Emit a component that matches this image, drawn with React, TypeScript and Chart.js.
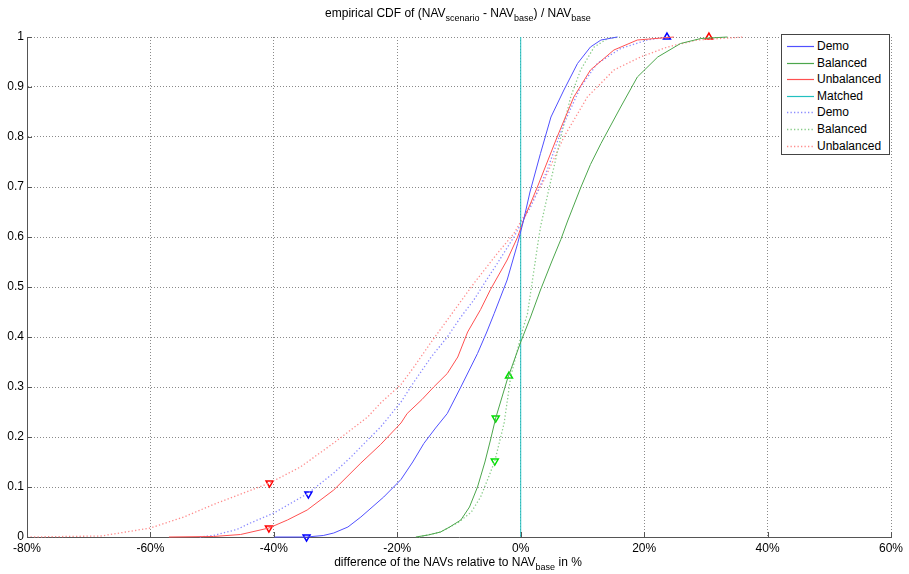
import React, { useEffect, useRef } from "react";
import { Chart, registerables } from "chart.js";
Chart.register(...registerables);

// ---- tick values ----
const xTickValues = [-80, -60, -40, -20, 0, 20, 40, 60];
const yTickValues = [0, 0.1, 0.2, 0.3, 0.4, 0.5, 0.6, 0.7, 0.8, 0.9, 1];

// ---- series (x in %, y = cumulative probability) ----
const demoX = [-40, -34.7, -32, -30.3, -28, -25.9, -22.2, -19.4, -17.5, -15.7, -13.8, -11.9, -9.7, -7.0, -5.5, -4.3, -2.2, -0.5, 0.4, 1.5, 3.2, 4.9, 7.0, 9.2, 11.3, 13.0, 15.7];
const demoY = [0, 0, 0.003, 0.008, 0.02, 0.04, 0.08, 0.115, 0.15, 0.187, 0.218, 0.247, 0.3, 0.367, 0.41, 0.447, 0.514, 0.587, 0.63, 0.69, 0.767, 0.84, 0.894, 0.947, 0.98, 0.994, 1.0];

const balancedX = [-17, -15, -13, -11.5, -9.7, -8.3, -7.0, -5.8, -4.9, -4.05, -2.2, 0, 1.6, 3.2, 5.0, 6.5, 7.6, 9.7, 11.3, 13.0, 16.2, 18.9, 22.2, 25.9, 29.2, 33.5];
const balancedY = [0, 0.004, 0.01, 0.02, 0.034, 0.06, 0.1, 0.15, 0.194, 0.238, 0.314, 0.39, 0.44, 0.494, 0.55, 0.595, 0.632, 0.698, 0.745, 0.787, 0.86, 0.92, 0.96, 0.987, 0.997, 1.0];

const unbalancedX = [-57, -49.8, -45.4, -40.8, -37.8, -34.6, -30.3, -25.9, -22.7, -19.4, -18.4, -16, -14.1, -11.9, -10.2, -8.6, -6.5, -4.9, -2.2, -0.5, 0.5, 2.7, 5.9, 8.6, 11.3, 15.1, 18.9, 24.8];
const unbalancedY = [0, 0.001, 0.005, 0.018, 0.034, 0.054, 0.094, 0.148, 0.185, 0.228, 0.247, 0.275, 0.3, 0.327, 0.36, 0.41, 0.455, 0.495, 0.554, 0.6, 0.635, 0.7, 0.8, 0.88, 0.934, 0.974, 0.994, 1.0];

const matchedX = [0, 0];
const matchedY = [0, 1];

const demoDotX = [-52, -49.8, -46, -43.8, -40, -34.5, -30.3, -27.5, -24.8, -22.7, -19.4, -17.3, -14.5, -11.9, -9.7, -7.6, -5.5, -3.8, -1.1, 0.5, 1.6, 2.7, 4.3, 7.0, 9.7, 12.4, 16.2, 20.5, 23.8];
const demoDotY = [0, 0.003, 0.015, 0.028, 0.048, 0.087, 0.128, 0.16, 0.194, 0.22, 0.27, 0.31, 0.36, 0.4, 0.44, 0.474, 0.515, 0.547, 0.6, 0.637, 0.66, 0.69, 0.734, 0.827, 0.9, 0.947, 0.977, 0.994, 1.0];

const balancedDotX = [-16.5, -13, -10, -8, -6.5, -5.2, -4.2, -2.7, -1.6, 0.3, 1.1, 2.7, 3.2, 4.9, 6.5, 8.1, 9.7, 11.9, 14.1, 16];
const balancedDotY = [0, 0.01, 0.03, 0.05, 0.08, 0.12, 0.152, 0.227, 0.322, 0.414, 0.447, 0.58, 0.62, 0.714, 0.8, 0.88, 0.934, 0.98, 0.997, 1.0];

const unbalancedDotX = [-80, -68, -64, -60, -54.6, -49.2, -44.9, -40.7, -35.7, -30.3, -24.8, -22.7, -19.4, -17.3, -14.5, -11.9, -7.6, -3.8, -1.1, 1.1, 3.8, 7.0, 10.8, 15.1, 19.4, 23.8, 28.6, 36.1];
const unbalancedDotY = [0, 0.002, 0.01, 0.018, 0.04, 0.068, 0.088, 0.108, 0.14, 0.188, 0.24, 0.268, 0.305, 0.34, 0.39, 0.434, 0.507, 0.567, 0.607, 0.654, 0.714, 0.8, 0.88, 0.934, 0.96, 0.98, 0.994, 1.0];

// ---- triangle markers ----
const demoMarkX = [-34.7, -34.4, 23.7];
const demoMarkY = [0, 0.086, 1];
const demoMarkDir = ["down", "down", "up"];
const balancedMarkX = [-4.05, -4.2, -1.9];
const balancedMarkY = [0.238, 0.152, 0.322];
const balancedMarkDir = ["down", "down", "up"];
const unbalancedMarkX = [-40.8, -40.7, 30.5];
const unbalancedMarkY = [0.018, 0.108, 1];
const unbalancedMarkDir = ["down", "down", "up"];

const legendNames = ["Demo", "Balanced", "Unbalanced", "Matched", "Demo", "Balanced", "Unbalanced"];

const FONT = "'Liberation Sans', Arial, sans-serif";
const C_BLUE = "#5050ff";
const C_GREEN = "#4ca64c";
const C_RED = "#ff5050";
const C_CYAN = "#22c0c0";
const C_BLUE_D = "#8a8aff";
const C_GREEN_D = "#88cc88";
const C_RED_D = "#ff8c8c";

const legendColors = [C_BLUE, C_GREEN, C_RED, C_CYAN, C_BLUE_D, C_GREEN_D, C_RED_D];
const legendDotted = [false, false, false, false, true, true, true];

const pts = (xs: number[], ys: number[]) => xs.map((x, i) => ({ x, y: ys[i] }));

function lineDs(label: string, xs: number[], ys: number[], color: string, dotted: boolean) {
  return {
    label,
    data: pts(xs, ys),
    showLine: true,
    borderColor: color,
    backgroundColor: color,
    borderWidth: dotted ? 1.3 : 1,
    borderDash: dotted ? [1.3, 2.2] : [],
    pointRadius: 0,
    tension: 0,
    clip: false as any,
  };
}

function markDs(label: string, xs: number[], ys: number[], dirs: string[], color: string) {
  return {
    label,
    data: pts(xs, ys),
    showLine: false,
    pointStyle: "triangle",
    pointRotation: dirs.map((d) => (d === "down" ? 180 : 0)),
    pointRadius: 4,
    pointBorderWidth: 1.5,
    pointBorderColor: color,
    pointBackgroundColor: "rgba(255,255,255,0)",
    borderColor: color,
    backgroundColor: "rgba(255,255,255,0)",
    clip: false as any,
  };
}

const innerTicks = {
  id: "innerTicks",
  afterDraw(chart: any) {
    const { ctx, chartArea, scales } = chart;
    ctx.save();
    ctx.strokeStyle = "#555";
    ctx.lineWidth = 1;
    ctx.beginPath();
    xTickValues.forEach((v) => {
      const px = Math.round(scales.x.getPixelForValue(v)) + 0.5;
      ctx.moveTo(px, chartArea.bottom);
      ctx.lineTo(px, chartArea.bottom - 5);
    });
    yTickValues.forEach((v) => {
      const py = Math.round(scales.y.getPixelForValue(v)) + 0.5;
      ctx.moveTo(chartArea.left, py);
      ctx.lineTo(chartArea.left + 5, py);
    });
    ctx.stroke();
    ctx.restore();
  },
};

export default function App() {
  const ref = useRef<HTMLCanvasElement>(null);

  useEffect(() => {
    if (!ref.current) return;
    const chart = new Chart(ref.current, {
      type: "scatter",
      data: {
        datasets: [
          lineDs("Demo", demoX, demoY, C_BLUE, false),
          lineDs("Balanced", balancedX, balancedY, C_GREEN, false),
          lineDs("Unbalanced", unbalancedX, unbalancedY, C_RED, false),
          lineDs("Matched", matchedX, matchedY, C_CYAN, false),
          lineDs("Demo", demoDotX, demoDotY, C_BLUE_D, true),
          lineDs("Balanced", balancedDotX, balancedDotY, C_GREEN_D, true),
          lineDs("Unbalanced", unbalancedDotX, unbalancedDotY, C_RED_D, true),
          markDs("demo markers", demoMarkX, demoMarkY, demoMarkDir, "#0000ff"),
          markDs("balanced markers", balancedMarkX, balancedMarkY, balancedMarkDir, "#00e000"),
          markDs("unbalanced markers", unbalancedMarkX, unbalancedMarkY, unbalancedMarkDir, "#ff0000"),
        ] as any,
      },
      options: {
        animation: false,
        responsive: false,
        maintainAspectRatio: false,
        layout: { padding: { top: 37, right: 18, left: 0, bottom: 0 } },
        plugins: {
          legend: { display: false },
          title: { display: false },
          tooltip: { enabled: false },
        },
        scales: {
          x: {
            type: "linear",
            min: -80,
            max: 60,
            afterBuildTicks: (s: any) => {
              s.ticks = xTickValues.map((v) => ({ value: v }));
            },
            afterFit: (s: any) => {
              s.height = 37;
            },
            ticks: {
              callback: (v: any) => `${v}%`,
              color: "#000",
              font: { family: FONT, size: 12 },
              padding: 4,
              maxRotation: 0,
              autoSkip: false,
            },
            grid: { color: "#8a8a8a", lineWidth: 1, drawTicks: false },
            border: { display: true, color: "#555", width: 1, dash: [1, 2] },
          },
          y: {
            type: "linear",
            min: 0,
            max: 1,
            afterBuildTicks: (s: any) => {
              s.ticks = yTickValues.map((v) => ({ value: v }));
            },
            afterFit: (s: any) => {
              s.width = 27;
            },
            ticks: {
              callback: (v: any) => `${Math.round(v * 10) / 10}`,
              color: "#000",
              font: { family: FONT, size: 12 },
              padding: 3,
              autoSkip: false,
            },
            grid: { color: "#8a8a8a", lineWidth: 1, drawTicks: false },
            border: { display: true, color: "#555", width: 1, dash: [1, 2] },
          },
        },
      } as any,
      plugins: [innerTicks],
    });
    return () => chart.destroy();
  }, []);

  const subStyle: React.CSSProperties = { fontSize: 9, verticalAlign: -4, lineHeight: 0 };

  return (
    <div
      style={{
        position: "fixed",
        left: 0,
        top: 0,
        width: 909,
        height: 574,
        background: "#fff",
        fontFamily: FONT,
        color: "#000",
      }}
    >
      <canvas ref={ref} width={909} height={574} style={{ display: "block", width: 909, height: 574 }} />
      <div
        style={{
          position: "absolute",
          left: 0,
          width: 916,
          top: 6,
          textAlign: "center",
          fontSize: 12,
          lineHeight: "14px",
          whiteSpace: "nowrap",
        }}
      >
        empirical CDF of (NAV<span style={subStyle}>scenario</span> - NAV<span style={subStyle}>base</span>) / NAV
        <span style={subStyle}>base</span>
      </div>
      <div
        style={{
          position: "absolute",
          left: 0,
          width: 916,
          top: 555,
          textAlign: "center",
          fontSize: 12,
          lineHeight: "14px",
          whiteSpace: "nowrap",
        }}
      >
        difference of the NAVs relative to NAV<span style={subStyle}>base</span> in %
      </div>
      <div
        style={{
          position: "absolute",
          left: 781,
          top: 34,
          width: 107,
          height: 119,
          border: "1px solid #444",
          background: "#fff",
        }}
      >
        {legendNames.map((name, i) => (
          <div
            key={i}
            style={{
              position: "absolute",
              left: 0,
              top: 3 + i * 16.6,
              height: 16,
              width: 107,
              fontSize: 12,
              lineHeight: "16px",
              whiteSpace: "nowrap",
            }}
          >
            <svg width={28} height={16} style={{ position: "absolute", left: 5, top: 0 }}>
              <line
                x1={0}
                y1={8.5}
                x2={27}
                y2={8.5}
                stroke={legendColors[i]}
                strokeWidth={legendDotted[i] ? 1.3 : 1.2}
                strokeDasharray={legendDotted[i] ? "1.3,2.2" : undefined}
              />
            </svg>
            <span style={{ position: "absolute", left: 35, top: 0 }}>{name}</span>
          </div>
        ))}
      </div>
    </div>
  );
}
